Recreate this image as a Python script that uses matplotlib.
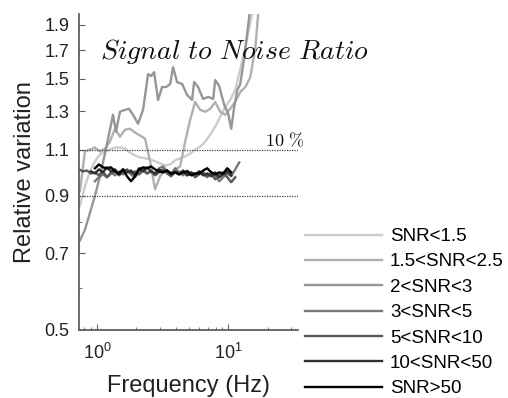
import matplotlib
matplotlib.use("Agg")
import matplotlib.pyplot as plt
import matplotlib.ticker as mticker
import numpy as np

plt.rcParams['font.family'] = ['Liberation Sans', 'DejaVu Sans']
plt.rcParams['mathtext.fontset'] = 'cm'

# shared frequency grid (Hz) for the stable curves
freq_grid = [0.729, 0.782, 0.839, 0.900, 0.965, 1.036, 1.111, 1.192, 1.279, 1.372,
             1.472, 1.579, 1.694, 1.818, 1.950, 2.093, 2.245, 2.408, 2.584, 2.771,
             2.973, 3.190, 3.422, 3.672, 3.939, 4.227, 4.535, 4.864, 5.220, 5.601,
             6.006, 6.444, 6.914, 7.418, 7.958, 8.538, 9.159, 9.826, 10.54, 11.31, 12.13]
nan = np.nan

snr_50 = [nan, nan, nan, nan, 1.014, 1.031, 1.018, 1.014, 1.018, 1.000,
          0.991, 1.009, 0.979, 0.958, 0.979, 1.009, 1.018, 1.014, 1.022, 1.009,
          1.000, 0.996, 1.004, 0.991, 0.996, 0.987, 0.996, 1.000, 0.983, 0.991,
          0.991, 1.004, 1.014, 0.996, 0.987, 0.996, 0.991, 1.014, 0.996, nan, nan]
snr_10_50 = [nan, nan, nan, 1.000, 0.991, 1.009, 0.996, 1.018, 1.000, 1.009,
             0.987, 1.009, 0.996, 1.004, 0.983, 1.014, 1.000, 1.018, 1.000, 0.991,
             1.009, 0.996, 1.004, 0.987, 1.000, 0.991, 1.004, 0.983, 0.996, 0.987,
             1.000, 0.983, 0.991, 0.979, 0.996, 0.975, 0.987, 1.000, 0.983, nan, nan]
snr_5_10 = [1.009, 1.000, 1.004, 0.991, 0.996, 0.983, 1.000, 0.975, 0.991, 1.000,
            0.983, 0.996, 1.009, 0.991, 1.000, 0.987, 1.004, 0.991, 1.000, 0.983,
            0.996, 1.009, 0.991, 0.979, 0.996, 0.987, 1.000, 0.983, 0.991, 0.975,
            0.987, 0.996, 0.979, 0.991, 0.966, 0.983, 0.996, 0.975, 0.954, 0.975, nan]
snr_3_5 = [nan, nan, nan, nan, 0.958, 0.975, 0.987, 0.975, 0.996, 0.983,
           1.000, 0.987, 1.004, 0.987, 0.975, 1.000, 1.014, 0.991, 1.004, 0.987,
           1.014, 1.022, 1.000, 0.987, 1.014, 0.996, 0.983, 1.004, 0.991, 0.979,
           1.000, 0.987, 0.975, 0.996, 0.983, 0.958, 0.975, 0.991, 0.979, 1.009, 1.040]

# coarser grid for the two noisiest curves
freq_low = [0.742, 0.810, 0.884, 0.965, 1.054, 1.151, 1.256, 1.372, 1.498, 1.636,
            1.786, 1.950, 2.130, 2.325, 2.540, 2.771, 3.025, 3.30, 3.61, 3.94,
            4.30, 4.70, 5.13, 5.60, 6.12, 6.68, 7.29, 7.96, 8.69, 9.49,
            10.35, 11.30, 12.35, 13.49, 14.73, 16.09, 17.5]
snr_1_5 = [0.860, 0.937, 1.000, 1.045, 1.077, 1.091, 1.100, 1.110, 1.110, 1.105,
           1.086, 1.072, 1.063, 1.059, 1.054, 1.045, 1.036, 1.027, 1.031, 1.050,
           1.059, 1.068, 1.081, 1.100, 1.115, 1.139, 1.174, 1.216, 1.270, 1.326,
           1.367, 1.427, 1.563, 1.720, 1.917, 2.150, nan]
snr_15_25 = [0.917, 1.091, 1.100, 1.110, 1.091, 1.105, 1.139, 1.205, 1.164, 1.200,
             1.205, 1.185, 1.170, 1.154, 1.045, 0.925, 0.979, 1.009, 0.991, 1.009,
             1.022, 1.139, 1.254, 1.355, 1.309, 1.298, 1.315, 1.355, 1.298, 1.281,
             1.315, 1.355, 1.415, 1.446, 1.510, 1.720, 2.200]

freq_23 = [0.742, 0.810, 0.884, 0.965, 1.054, 1.151, 1.256, 1.325, 1.396, 1.498,
           1.636, 1.755, 1.883, 2.056, 2.245, 2.451, 2.584, 2.725, 2.922, 3.134,
           3.36, 3.61, 3.80, 4.08, 4.46, 4.86, 5.31, 5.50, 5.90, 6.44,
           7.04, 7.68, 7.96, 8.54, 9.32, 10.0, 10.54, 11.11, 11.72, 12.35,
           13.25, 13.97, 14.73]
snr_2_3 = [0.739, 0.775, 0.834, 0.898, 0.979, 1.081, 1.200, 1.281, 1.190, 1.298,
           1.309, 1.315, 1.281, 1.232, 1.309, 1.530, 1.517, 1.543, 1.367, 1.446,
           1.446, 1.465, 1.577, 1.478, 1.465, 1.397, 1.367, 1.478, 1.446, 1.373,
           1.385, 1.373, 1.491, 1.452, 1.338, 1.287, 1.205, 1.326, 1.427, 1.465,
           1.647, 1.835, 2.046]

labels = ['SNR<1.5', '1.5<SNR<2.5', '2<SNR<3', '3<SNR<5', '5<SNR<10', '10<SNR<50', 'SNR>50']
grays = ['#cccccc', '#b0b0b0', '#969696', '#787878', '#585858', '#303030', '#000000']

fig = plt.figure(figsize=(5.08, 3.98), dpi=100)
ax = fig.add_axes([79/508, 1-330/398, (298-79)/508, (330-14)/398])

curves = [(freq_low, snr_1_5), (freq_low, snr_15_25), (freq_23, snr_2_3),
          (freq_grid, snr_3_5), (freq_grid, snr_5_10), (freq_grid, snr_10_50),
          (freq_grid, snr_50)]
for (f, v), lab, c in zip(curves, labels, grays):
    ax.plot(f, v, color=c, lw=1.7, label=lab)

ax.axhline(1.1, color='#444444', lw=0.9, ls=(0, (1, 1)))
ax.axhline(0.9, color='#444444', lw=0.9, ls=(0, (1, 1)))

ax.set_xscale('log')
ax.set_yscale('log')
ax.set_xlim(0.73, 34)
ax.set_ylim(0.5, 1.99)

yt = [0.5, 0.7, 0.9, 1.1, 1.3, 1.5, 1.7, 1.9]
ax.yaxis.set_major_locator(mticker.FixedLocator(yt))
ax.yaxis.set_major_formatter(mticker.FixedFormatter(['%.1f' % t for t in yt]))
ax.yaxis.set_minor_locator(mticker.FixedLocator([0.6, 0.8]))
ax.yaxis.set_minor_formatter(mticker.NullFormatter())

for s in ['top', 'right']:
    ax.spines[s].set_visible(False)
for s in ['left', 'bottom']:
    ax.spines[s].set_color('#606060')
    ax.spines[s].set_linewidth(1.3)
ax.tick_params(which='both', direction='in', colors='#606060', labelcolor='#222222',
               labelsize=13)
ax.tick_params(axis='y', which='major', length=4, pad=7)
ax.tick_params(axis='x', which='major', length=4, pad=9)
ax.tick_params(which='minor', length=2.5)

ax.set_xlabel('Frequency (Hz)', fontsize=17, color='#222222', labelpad=9)
ax.set_ylabel('Relative variation', fontsize=17, color='#222222', labelpad=6)

ax.text(1.054, 1.633, r'$Signal\ to\ Noise\ Ratio$', fontsize=20, va='baseline',
        ha='left', color='#111111')
ax.text(19.1, 1.115, r'$\mathrm{10\ \%}$', fontsize=13, va='baseline', ha='left',
        color='#111111')

fig.legend(loc='upper left', bbox_to_anchor=(305/508, 1-228/398),
           bbox_transform=fig.transFigure, frameon=False, fontsize=13.5,
           handlelength=4.1, handletextpad=0.43, labelspacing=0.44,
           borderpad=0, borderaxespad=0)

fig.savefig('out.png', dpi=100)
